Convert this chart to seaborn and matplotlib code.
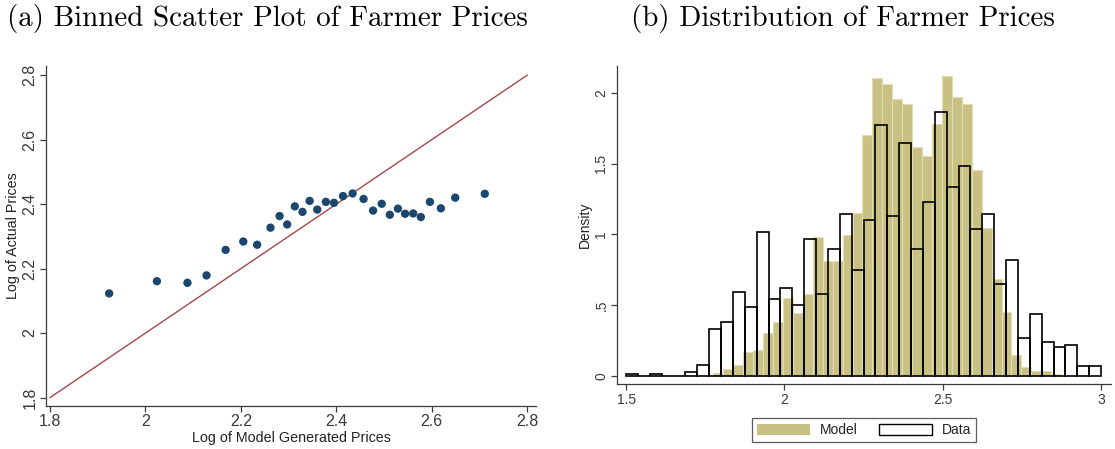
import numpy as np
import matplotlib
matplotlib.use("Agg")
import matplotlib.pyplot as plt
import matplotlib.patches as mpatches
import seaborn as sns

# ---------------- data ----------------
# (a) binned scatter
model_log_price = [1.924, 2.024, 2.088, 2.128, 2.168, 2.205, 2.234, 2.262, 2.281, 2.297,
                   2.313, 2.329, 2.344, 2.360, 2.378, 2.395, 2.414, 2.434, 2.457, 2.477,
                   2.495, 2.512, 2.529, 2.544, 2.561, 2.577, 2.596, 2.619, 2.649, 2.711]
actual_log_price = [2.123, 2.161, 2.156, 2.179, 2.258, 2.284, 2.274, 2.327, 2.363, 2.337,
                    2.393, 2.376, 2.410, 2.383, 2.407, 2.404, 2.425, 2.433, 2.416, 2.380,
                    2.401, 2.367, 2.386, 2.370, 2.371, 2.360, 2.407, 2.387, 2.420, 2.432]
diag_line = [1.8, 2.8]
xticks_a = [1.8, 2.0, 2.2, 2.4, 2.6, 2.8]
xticklabels_a = ["1.8", "2", "2.2", "2.4", "2.6", "2.8"]
yticks_a = [1.8, 2.0, 2.2, 2.4, 2.6, 2.8]
yticklabels_a = ["1.8", "2", "2.2", "2.4", "2.6", "2.8"]

# (b) histograms (density per bin)
data_bin_start, data_bin_end, data_n_bins = 1.5, 3.0, 40
data_density = [0.01, 0.0, 0.01, 0.0, 0.0, 0.024, 0.078, 0.33, 0.378, 0.59,
                0.49, 1.018, 0.545, 0.62, 0.50, 0.97, 0.58, 0.895, 1.145, 0.75,
                1.105, 1.773, 1.13, 1.65, 0.895, 1.228, 1.868, 1.334, 1.488, 1.04,
                1.145, 0.647, 0.82, 0.27, 0.434, 0.24, 0.205, 0.22, 0.068, 0.068]
model_bin_start, model_bin_end, model_n_bins = 1.776, 2.874, 35
model_density = [0.02, 0.05, 0.076, 0.17, 0.18, 0.30, 0.378, 0.552, 0.446, 0.576,
                 0.98, 0.81, 0.81, 0.996, 1.154, 1.707, 2.111, 2.064, 1.962, 1.922,
                 1.620, 1.556, 1.783, 2.125, 1.972, 1.926, 1.455, 1.044, 0.685, 0.453,
                 0.147, 0.064, 0.030, 0.033, 0.010]
xticks_b = [1.5, 2.0, 2.5, 3.0]
xticklabels_b = ["1.5", "2", "2.5", "3"]
yticks_b = [0, 0.5, 1.0, 1.5, 2.0]
yticklabels_b = ["0", ".5", "1", "1.5", "2"]

title_a = "(a) Binned Scatter Plot of Farmer Prices"
title_b = "(b) Distribution of Farmer Prices"

# ---------------- style ----------------
sns.set_theme(style="ticks")
plt.rcParams["font.family"] = ["Liberation Sans", "DejaVu Sans"]
axis_col = "#3a3a3a"
plt.rcParams.update({
    "axes.edgecolor": axis_col,
    "axes.linewidth": 0.9,
    "xtick.color": axis_col,
    "ytick.color": axis_col,
    "xtick.major.width": 0.9,
    "ytick.major.width": 0.9,
    "text.color": "#222222",
    "axes.labelcolor": "#222222",
})

fig = plt.figure(figsize=(11.15, 4.49), dpi=100)

# ---------------- panel (a) ----------------
ax1 = fig.add_axes([0.041, 0.0958, 0.440, 0.757])
sns.lineplot(x=diag_line, y=diag_line, ax=ax1, color="#a4474c", linewidth=1.0)
sns.scatterplot(x=model_log_price, y=actual_log_price, ax=ax1, color="#1b4670",
                s=36, edgecolor="none", zorder=3)
ax1.set_xlim(1.791, 2.819)
ax1.set_ylim(1.774, 2.828)
ax1.set_xticks(xticks_a, xticklabels_a)
ax1.set_yticks(yticks_a, yticklabels_a)
ax1.tick_params(axis="both", labelsize=11.5, length=4, pad=2)
ax1.tick_params(axis="y", labelrotation=90)
for lab in ax1.get_yticklabels():
    lab.set_va("center")
ax1.set_xlabel("Log of Model Generated Prices", fontsize=10.3, labelpad=1)
ax1.set_ylabel("Log of Actual Prices", fontsize=10.3, labelpad=2)
sns.despine(ax=ax1)

# ---------------- panel (b) ----------------
ax2 = fig.add_axes([0.553, 0.144, 0.443, 0.709])
model_edges = np.linspace(model_bin_start, model_bin_end, model_n_bins + 1)
data_edges = np.linspace(data_bin_start, data_bin_end, data_n_bins + 1)
model_centers = list((model_edges[:-1] + model_edges[1:]) / 2)
data_centers = list((data_edges[:-1] + data_edges[1:]) / 2)

sns.histplot(x=model_centers, weights=model_density, bins=list(model_edges), stat="count",
             ax=ax2, color="#c9c084", edgecolor="#e2ddb4", linewidth=0.8, alpha=1.0,
             zorder=1)
sns.histplot(x=data_centers, weights=data_density, bins=list(data_edges), stat="count",
             ax=ax2, fill=False, color="black", linewidth=1.2, zorder=2)
ax2.set_xlim(1.470, 3.030)
ax2.set_ylim(-0.061, 2.193)
ax2.set_xticks(xticks_b, xticklabels_b)
ax2.set_yticks(yticks_b, yticklabels_b)
ax2.tick_params(axis="both", labelsize=10, length=4, pad=2)
ax2.tick_params(axis="y", labelrotation=90)
for lab in ax2.get_yticklabels():
    lab.set_va("center")
ax2.set_xlabel("")
ax2.set_ylabel("Density", fontsize=10, labelpad=2)
sns.despine(ax=ax2)

handles = [mpatches.Patch(facecolor="#c9c084", edgecolor="none", label="Model"),
           mpatches.Patch(facecolor="white", edgecolor="black", linewidth=1.0, label="Data")]
leg = fig.legend(handles=handles, loc="center", bbox_to_anchor=(0.775, 0.042), ncol=2,
                 fontsize=10, frameon=True, fancybox=False, handlelength=3.8,
                 handleheight=0.9, handletextpad=0.7, columnspacing=1.6,
                 borderpad=0.35)
leg.get_frame().set_edgecolor("#333333")
leg.get_frame().set_linewidth(0.9)

# ---------------- titles ----------------
fig.text(267.5 / 1115, 1 - 18.5 / 449, title_a, family="cmr10", fontsize=20.9,
         ha="center", va="center", color="black")
fig.text(843 / 1115, 1 - 18.5 / 449, title_b, family="cmr10", fontsize=20.9,
         ha="center", va="center", color="black")

fig.savefig("out.png", dpi=100)
